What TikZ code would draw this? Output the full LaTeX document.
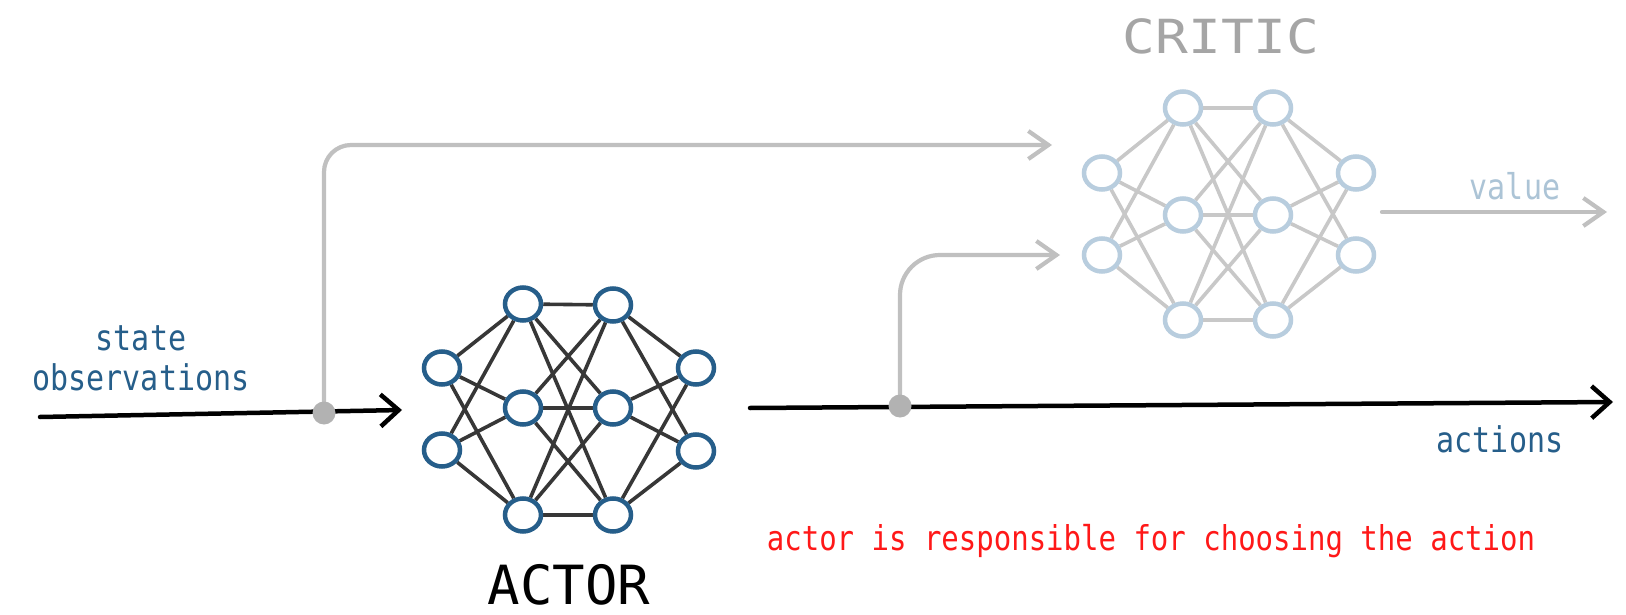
\documentclass[tikz,border=0pt]{standalone}
\usepackage{fontspec}
\usepackage{graphicx}
\setmonofont{DejaVu Sans Mono}
\usetikzlibrary{shapes.geometric,arrows.meta,backgrounds}
\definecolor{actorblue}{RGB}{38,94,138}
\definecolor{criticblue}{RGB}{184,205,222}
\definecolor{actoredge}{RGB}{55,55,55}
\definecolor{criticedge}{RGB}{200,200,200}
\definecolor{feedgray}{RGB}{192,192,192}
\definecolor{dotgray}{RGB}{178,178,178}
\definecolor{textblue}{RGB}{38,94,138}
\definecolor{valueblue}{RGB}{172,196,214}
\definecolor{critictext}{RGB}{165,165,165}
\definecolor{notered}{RGB}{255,24,24}
\newcommand{\tallish}[1]{\scalebox{1}[1.18]{#1}}
\newcommand{\widish}[1]{\scalebox{1.16}[1]{#1}}
\tikzset{
  neuron/.style={ellipse, line width=4.5pt, minimum width=36pt, minimum height=33pt, inner sep=0pt},
  actorneuron/.style={neuron, draw=actorblue},
  criticneuron/.style={neuron, draw=criticblue},
  actorlink/.style={draw=actoredge, line width=3.6pt},
  criticlink/.style={draw=criticedge, line width=3.6pt},
  mainarrow/.style={draw=black, line width=4.5pt, line cap=round,
    -{Straight Barb[length=18pt,width=32pt,line width=4.5pt]}},
  feedarrow/.style={draw=feedgray, line width=4.2pt, line cap=round,
    -{Straight Barb[length=20pt,width=28pt,line width=4.2pt]}},
  junction/.style={circle, fill=dotgray, minimum size=23pt, inner sep=0pt},
  lbltext/.style={inner sep=0pt, anchor=base, font=\ttfamily\fontsize{30}{36}\selectfont},
  titletext/.style={inner sep=0pt, anchor=base, font=\ttfamily\fontsize{54}{60}\selectfont}
}
\begin{document}
\begin{tikzpicture}[x=1pt,y=-1pt]
\useasboundingbox (0,0) rectangle (1626,615);
\begin{scope}[on background layer]
  \fill[white] (0,0) rectangle (1626,615);
\end{scope}

% actor network
\foreach \n/\x/\y in {ai1/442/368, ai2/442/450,
                      ah1/523/304, ah2/523/408, ah3/523/515,
                      ag1/613/305, ag2/613/408, ag3/613/515,
                      ao1/696/368, ao2/696/451}
  \node[actorneuron] (\n) at (\x,\y) {};
% critic network
\foreach \n/\x/\y in {ci1/1102/173, ci2/1102/255,
                      ch1/1183/108, ch2/1183/215, ch3/1183/320,
                      cg1/1273/108, cg2/1273/215, cg3/1273/320,
                      co1/1356/173, co2/1356/255}
  \node[criticneuron] (\n) at (\x,\y) {};

\begin{scope}[on background layer]
  \foreach \i in {1,2} \foreach \j in {1,2,3} {
    \draw[actorlink] (ai\i) -- (ah\j);
    \draw[criticlink] (ci\i) -- (ch\j);
    \draw[actorlink] (ag\j) -- (ao\i);
    \draw[criticlink] (cg\j) -- (co\i);
  }
  \foreach \i in {1,2,3} \foreach \j in {1,2,3} {
    \draw[actorlink] (ah\i) -- (ag\j);
    \draw[criticlink] (ch\i) -- (cg\j);
  }
\end{scope}

% connector end points
\coordinate (stin) at (40,417);
\coordinate (sttip) at (402,410);
\coordinate (c1tip) at (1052,145);
\coordinate (actout) at (750,408);
\coordinate (acttip) at (1613,402);
\coordinate (c2tip) at (1060,255);
\coordinate (valstart) at (1382,212);
\coordinate (valtip) at (1607,212);

\node[junction] (d1) at (324,413) {};
\node[junction] (d2) at (900,406) {};

\begin{scope}[on background layer]
  \draw[mainarrow] (stin) -- (sttip);
  \draw[mainarrow] (actout) -- (acttip);
  \draw[feedarrow, rounded corners=27pt] (d1.center) |- (c1tip);
  \draw[feedarrow, rounded corners=40pt] (d2.center) |- (c2tip);
\end{scope}
\draw[feedarrow] (valstart) -- (valtip);

% texts
\node[lbltext, text=textblue] (state) at (141,350) {\tallish{state}};
\node[lbltext, text=textblue] (obs) at (141,390) {\tallish{observations}};
\node[lbltext, text=textblue] (actions) at (1500,452) {\tallish{actions}};
\node[lbltext, text=valueblue] (value) at (1515,200) {\tallish{value}};
\node[lbltext, text=notered, font=\ttfamily\fontsize{29}{34}\selectfont] (note) at (1151,550) {\tallish{actor is responsible for choosing the action}};
\node[titletext, text=black] (actor) at (569,604) {ACTOR};
\node[titletext, text=critictext, font=\ttfamily\fontsize{47}{54}\selectfont] (critic) at (1221,54) {\widish{CRITIC}};
\end{tikzpicture}
\end{document}
